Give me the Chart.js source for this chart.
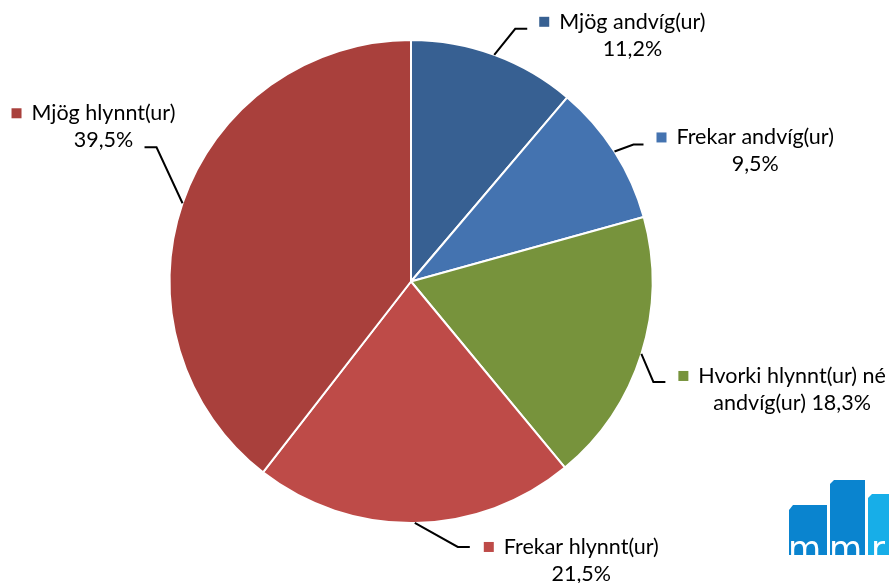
<!DOCTYPE html>
<html lang="is">
<head>
<meta charset="utf-8"/>
<title>Afstaða</title>
<script src="https://cdn.jsdelivr.net/npm/chart.js@4"></script>
<style>
  html, body { margin: 0; padding: 0; background: #fff; }
  #wrap { width: 889px; height: 583px; position: relative; }
</style>
</head>
<body>
<div id="wrap"><canvas id="pie"></canvas></div>
<script>
  // gögn
  const categories = ['Mjög andvíg(ur)', 'Frekar andvíg(ur)', 'Hvorki hlynnt(ur) né andvíg(ur)', 'Frekar hlynnt(ur)', 'Mjög hlynnt(ur)'];
  const values = [11.2, 9.5, 18.3, 21.5, 39.5];
  const valueLabels = ['11,2%', '9,5%', '18,3%', '21,5%', '39,5%'];
  const colors = ['#376092', '#4473b0', '#77933c', '#be4b48', '#a9403c'];

  // how each label sits: text lines, leader elbow (offset from arc edge), tail, marker offset
  const labelLines = [
    ['Mjög andvíg(ur)', '11,2%'],
    ['Frekar andvíg(ur)', '9,5%'],
    ['Hvorki hlynnt(ur) né', 'andvíg(ur) 18,3%'],
    ['Frekar hlynnt(ur)', '21,5%'],
    ['Mjög hlynnt(ur)', '39,5%']
  ];
  const leaders = [
    { elbow: [21, -26], tail: 12, mark: [17, -7] },
    { elbow: [19, -7], tail: 10, mark: [18, -7] },
    { elbow: [12, 28], tail: 12, mark: [18, -6] },
    { elbow: [43, 24], tail: 12, mark: [19, 0] },
    { elbow: [-26, -56], tail: -12, mark: [-128, -34] }
  ];

  const FONT = '21.5px Lato, "Open Sans", sans-serif';

  const labelPlugin = {
    id: 'pieLabels',
    afterDatasetsDraw(chart) {
      const ctx = chart.ctx;
      const arcs = chart.getDatasetMeta(0).data;
      ctx.save();
      ctx.font = FONT;
      arcs.forEach((arc, i) => {
        const mid = (arc.startAngle + arc.endAngle) / 2;
        const ex = arc.x + Math.cos(mid) * arc.outerRadius;
        const ey = arc.y + Math.sin(mid) * arc.outerRadius;
        const L = leaders[i];
        const bx = ex + L.elbow[0], by = ey + L.elbow[1];
        const tx = bx + L.tail;
        ctx.strokeStyle = '#000';
        ctx.lineWidth = 2;
        ctx.beginPath();
        ctx.moveTo(ex, ey);
        ctx.lineTo(bx, by);
        ctx.lineTo(tx, by);
        ctx.stroke();

        const mx = tx + L.mark[0], my = by + L.mark[1];
        ctx.fillStyle = colors[i];
        ctx.fillRect(mx - 5, my - 5, 10, 10);
        const lines = labelLines[i];
        const textX = mx + 15;
        const w = ctx.measureText(lines[0]).width;
        ctx.fillStyle = '#000';
        ctx.textBaseline = 'middle';
        ctx.textAlign = 'left';
        ctx.fillText(lines[0], textX, my);
        ctx.textAlign = 'center';
        ctx.fillText(lines[1], textX + w / 2, my + 27);
      });
      ctx.restore();
    }
  };

  const logoPlugin = {
    id: 'logo',
    afterDraw(chart) {
      const ctx = chart.ctx;
      ctx.save();
      ctx.fillStyle = '#0a84cf';
      ctx.beginPath();
      ctx.moveTo(789, 555); ctx.lineTo(789, 510); ctx.lineTo(793, 505); ctx.lineTo(827, 505); ctx.lineTo(827, 555);
      ctx.closePath(); ctx.fill();
      ctx.beginPath();
      ctx.moveTo(830, 555); ctx.lineTo(830, 484); ctx.lineTo(834, 480); ctx.lineTo(865, 480); ctx.lineTo(865, 555);
      ctx.closePath(); ctx.fill();
      ctx.fillStyle = '#17aee8';
      ctx.beginPath();
      ctx.moveTo(868, 555); ctx.lineTo(868, 498); ctx.lineTo(872, 494); ctx.lineTo(889, 494); ctx.lineTo(889, 555);
      ctx.closePath(); ctx.fill();
      ctx.fillStyle = '#fff';
      ctx.font = '34px "DejaVu Sans", sans-serif';
      ctx.textBaseline = 'alphabetic';
      ctx.textAlign = 'left';
      ctx.save();
      ctx.beginPath(); ctx.rect(780, 470, 109, 85); ctx.clip();
      ctx.fillText('m', 788, 560);
      ctx.fillText('m', 829, 560);
      ctx.fillText('r', 871, 560);
      ctx.restore();
      ctx.restore();
    }
  };

  new Chart(document.getElementById('pie'), {
    type: 'pie',
    data: {
      labels: categories,
      datasets: [{
        data: values,
        backgroundColor: colors,
        borderColor: '#fff',
        borderWidth: 2
      }]
    },
    options: {
      responsive: true,
      maintainAspectRatio: false,
      animation: false,
      layout: { padding: { left: 168, right: 235, top: 39, bottom: 59 } },
      plugins: {
        legend: { display: false },
        tooltip: { enabled: false }
      }
    },
    plugins: [labelPlugin, logoPlugin]
  });
</script>
</body>
</html>
